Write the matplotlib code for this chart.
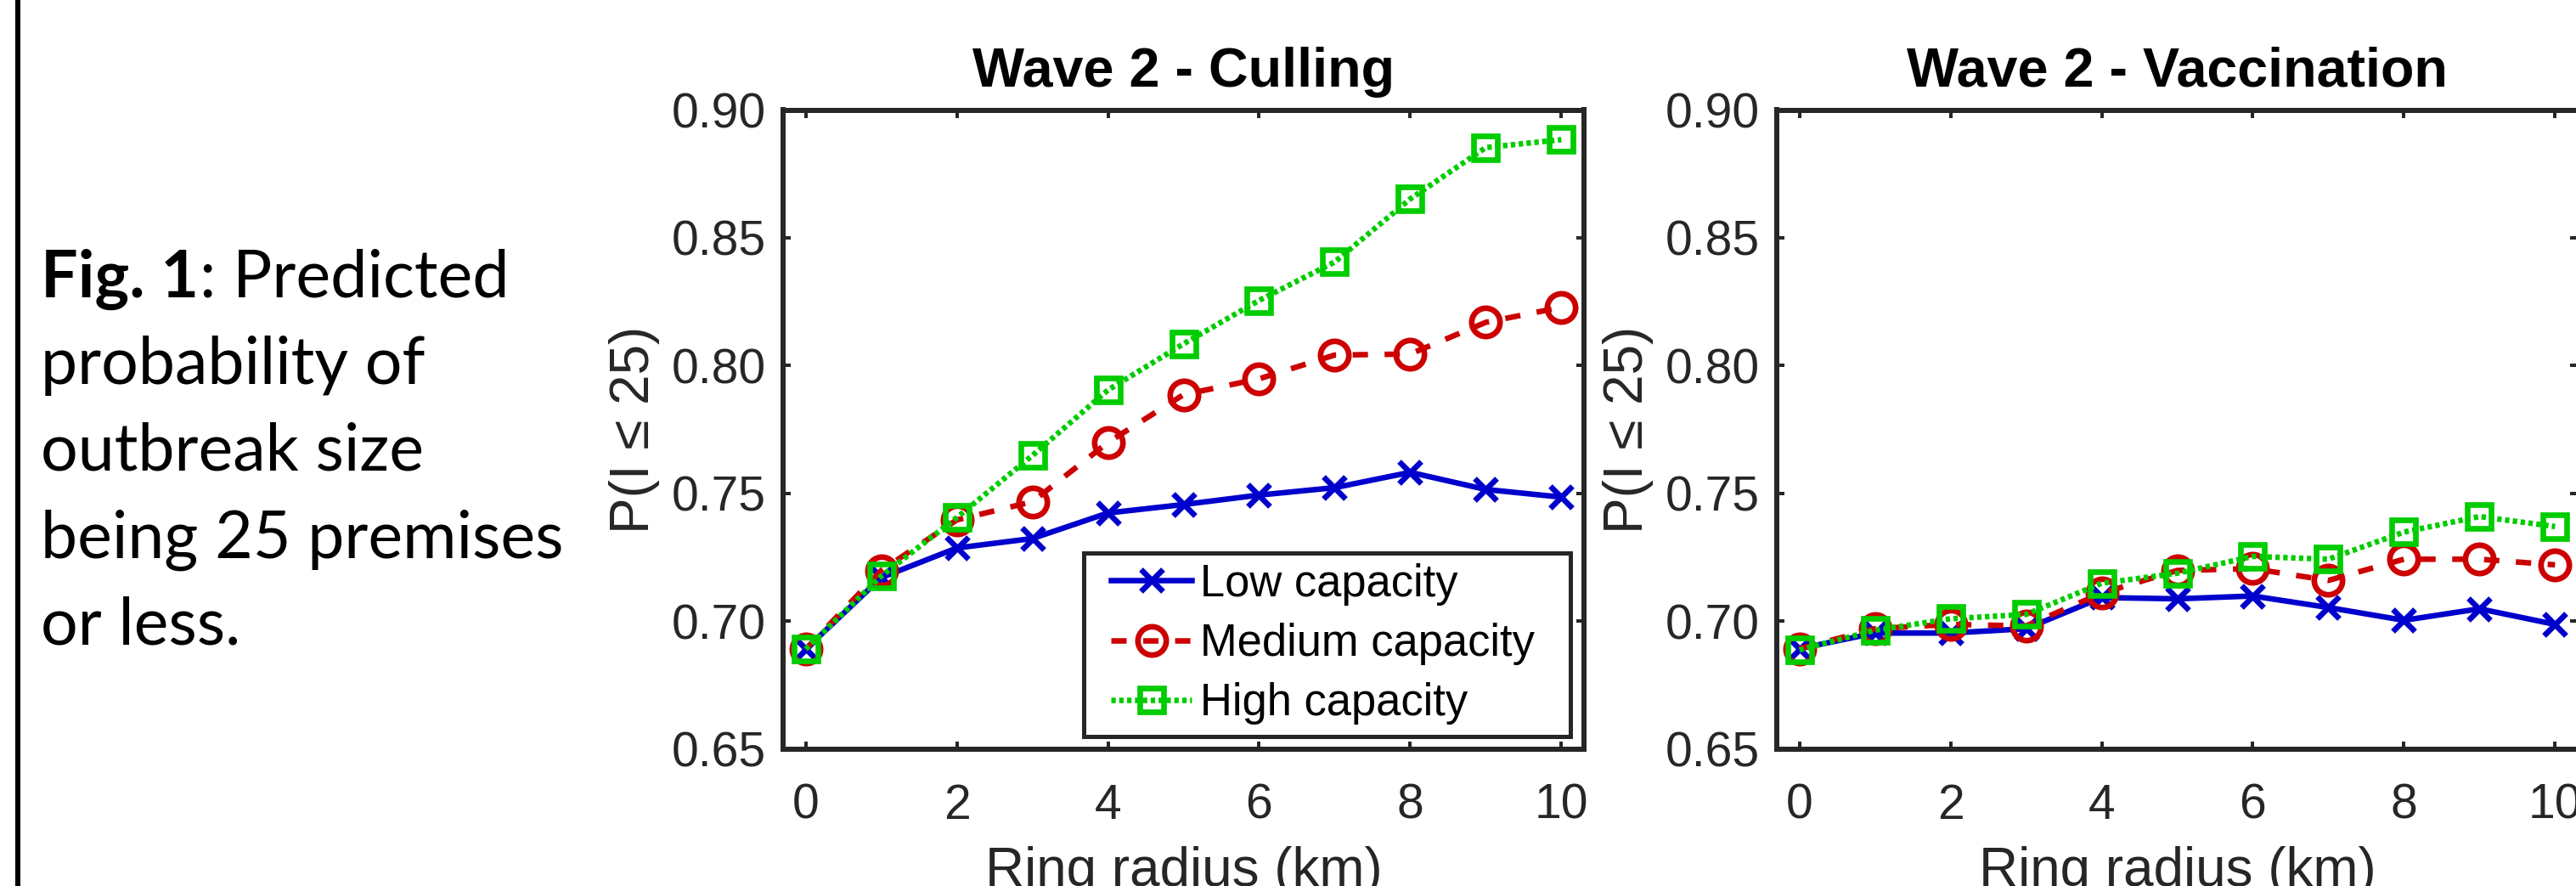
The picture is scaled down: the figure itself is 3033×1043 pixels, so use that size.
import matplotlib
matplotlib.use('Agg')
import matplotlib.pyplot as plt
from matplotlib.patches import Rectangle
from matplotlib.lines import Line2D

# ---------------- data ----------------
radius = [0, 1, 2, 3, 4, 5, 6, 7, 8, 9, 10]
cull_low = [0.689, 0.717, 0.7286, 0.7323, 0.7423, 0.7456, 0.7493, 0.7522, 0.7582, 0.7515, 0.7485]
cull_med = [0.689, 0.7198, 0.7396, 0.7467, 0.7699, 0.7886, 0.7948, 0.8041, 0.8045, 0.8169, 0.8228]
cull_high = [0.689, 0.7176, 0.7405, 0.7648, 0.7904, 0.8085, 0.8255, 0.8405, 0.8652, 0.8853, 0.8884]
vacc_low = [0.6892, 0.6953, 0.6953, 0.697, 0.7092, 0.7087, 0.7098, 0.7053, 0.7003, 0.7048, 0.6987]
vacc_med = [0.6892, 0.697, 0.6987, 0.6981, 0.7109, 0.7198, 0.7205, 0.7159, 0.7242, 0.7242, 0.722]
vacc_high = [0.6887, 0.6964, 0.7009, 0.7026, 0.7148, 0.7187, 0.7253, 0.7242, 0.7348, 0.7409, 0.737]
series_labels = ["Low capacity", "Medium capacity", "High capacity"]
panel_titles = ["Wave 2 - Culling", "Wave 2 - Vaccination"]
xticks = [0, 2, 4, 6, 8, 10]
yticks = [0.65, 0.70, 0.75, 0.80, 0.85, 0.90]
ytick_labels = ["0.65", "0.70", "0.75", "0.80", "0.85", "0.90"]
caption_bold = "Fig. 1"
caption_lines = [": Predicted", "probability of", "outbreak size", "being 25 premises", "or less."]

# ---------------- figure ----------------
W, H = 3033, 1043
fig = plt.figure(figsize=(W / 100, H / 100), dpi=100)
fig.patch.set_facecolor('white')

AX_FONT = ['Liberation Sans', 'DejaVu Sans']
GRAY = '#262626'
PX = 0.72  # points per pixel at dpi 100

# left vertical bar
fig.add_artist(Line2D([21 / W, 21 / W], [0, 1], transform=fig.transFigure,
                      color='black', lw=6 * PX, solid_capstyle='butt'))

# caption
rend = fig.canvas.get_renderer()
baselines = [349.3, 451.6, 553.9, 656.2, 758.5]
cap_x = 48.5 / W
CAP_FS = 55.5
t0 = fig.text(cap_x, 1 - baselines[0] / H, caption_bold, family='Lato', fontweight='bold',
              fontsize=CAP_FS, va='baseline', ha='left', color='black')
bb = t0.get_window_extent(rend)
fig.text(bb.x1 / W, 1 - baselines[0] / H, caption_lines[0], family='Lato',
         fontsize=CAP_FS, va='baseline', ha='left', color='black')
for line, b in zip(caption_lines[1:], baselines[1:]):
    fig.text(cap_x, 1 - b / H, line, family='Lato', fontsize=CAP_FS,
             va='baseline', ha='left', color='black')

# axes geometry (pixels)
ax_w, ax_h = 943, 752
ax_top = 129.5
lefts = [922, 2092]

colors = ['#0000cc', '#cc0000', '#00cc00']
LW = 4.7
styles = [
    dict(linestyle='-', marker='x', markersize=19, markeredgewidth=4.8),
    dict(linestyle=(0, (2.76, 2.99)), marker='o', markersize=24, markeredgewidth=4.8),
    dict(linestyle=(0, (0.8, 0.62)), marker='s', markersize=19.7, markeredgewidth=4.8),
]

data = [[cull_low, cull_med, cull_high], [vacc_low, vacc_med, vacc_high]]

for i, (left, title, series) in enumerate(zip(lefts, panel_titles, data)):
    ax = fig.add_axes([left / W, 1 - (ax_top + ax_h) / H, ax_w / W, ax_h / H])
    handles = []
    for vals, c, st, lab in zip(series, colors, styles, series_labels):
        h, = ax.plot(radius, vals, color=c, lw=LW, markerfacecolor='none',
                     markeredgecolor=c, label=lab, dash_capstyle='butt',
                     solid_joinstyle='round', **st)
        handles.append(h)
    ax.set_xlim(-0.3, 10.3)
    ax.set_ylim(0.65, 0.90)
    ax.set_xticks(xticks)
    ax.set_xticklabels([str(v) for v in xticks])
    ax.set_yticks(yticks)
    ax.set_yticklabels(ytick_labels)
    for sp in ax.spines.values():
        sp.set_linewidth(6 * PX)
        sp.set_color(GRAY)
    ax.tick_params(direction='in', length=9 * PX, width=4 * PX, color=GRAY,
                   top=True, right=True, labelsize=41, labelcolor=GRAY)
    ax.tick_params(axis='x', pad=28.8)
    ax.tick_params(axis='y', pad=14.4)
    for lab in ax.get_xticklabels() + ax.get_yticklabels():
        lab.set_family(AX_FONT)
    ax.set_title(title, fontsize=46.5, fontweight='bold', family=AX_FONT,
                 color='black', pad=19.8)
    ax.set_xlabel("Ring radius (km)", fontsize=46, family=AX_FONT, color=GRAY)
    ax.set_ylabel("P(I \u2264 25)", fontsize=46, family=AX_FONT, color=GRAY)
    ax.xaxis.set_label_coords(0.5, (ax_top + ax_h - 996) / ax_h)
    ax.yaxis.set_label_coords((777 - 922) / ax_w, 0.5)

    if i == 0:
        x0 = (1275.5 - 922) / ax_w
        x1 = (1849 - 922) / ax_w
        y1 = (ax_top + ax_h - 650.5) / ax_h
        y0 = (ax_top + ax_h - 866.5) / ax_h
        ax.add_patch(Rectangle((x0, y0), x1 - x0, y1 - y0, transform=ax.transAxes,
                               facecolor='white', edgecolor=GRAY, lw=5 * PX,
                               zorder=4, clip_on=False))
        fs = 37.8
        fpx = fs / PX
        leg = ax.legend(handles=handles, loc='center left',
                        bbox_to_anchor=((1308 - 922) / ax_w, (ax_top + ax_h - 758) / ax_h),
                        frameon=False, borderpad=0, borderaxespad=0,
                        handlelength=95 / fpx, handletextpad=10 / fpx,
                        labelspacing=0.39, numpoints=1,
                        prop={'family': AX_FONT, 'size': fs})
        leg.set_zorder(5)

fig.savefig('out.png', dpi=100, facecolor='white')
